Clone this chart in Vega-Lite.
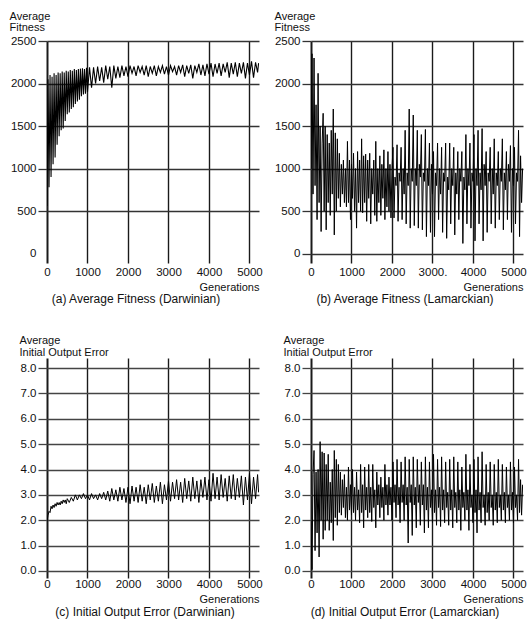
{
"$schema": "https://vega.github.io/schema/vega-lite/v6.json",
"background": "white",
"padding": {"left": 9, "top": 10, "right": 4, "bottom": 4},
"config": {
  "font": "Liberation Sans",
  "view": {"stroke": null},
  "axis": {"labelFont": "Liberation Sans", "labelFontSize": 11.5, "labelColor": "#111", "titleFont": "Liberation Sans", "titleFontSize": 11, "titleFontWeight": "normal", "titleColor": "#111", "domain": false, "labelFlush": false, "labelOverlap": false},
  "title": {"font": "Liberation Sans", "fontSize": 12, "fontWeight": "normal", "color": "#111"}
},
"datasets": {
"a": [
{"g":0,"v":560},{"g":25,"v":2050},{"g":50,"v":780},{"g":75,"v":2100},{"g":100,"v":900},{"g":125,"v":2080},{"g":150,"v":1050},{"g":175,"v":2120},{"g":200,"v":1130},{"g":225,"v":2100},{"g":250,"v":1280},{"g":275,"v":2130},{"g":300,"v":1380},{"g":325,"v":2120},{"g":350,"v":1450},{"g":375,"v":2140},{"g":400,"v":1470},{"g":425,"v":2130},{"g":450,"v":1560},{"g":475,"v":2150},{"g":500,"v":1640},{"g":525,"v":2140},{"g":550,"v":1660},{"g":575,"v":2160},{"g":600,"v":1700},{"g":625,"v":2150},{"g":650,"v":1720},{"g":675,"v":2170},{"g":700,"v":1760},{"g":725,"v":2160},{"g":750,"v":1790},{"g":775,"v":2170},{"g":800,"v":1810},{"g":825,"v":2175},{"g":850,"v":1850},{"g":875,"v":2180},{"g":900,"v":1870},{"g":925,"v":2170},{"g":950,"v":1880},{"g":975,"v":2185},{"g":1000,"v":1900},
{"g":1050,"v":2190},{"g":1100,"v":1950},{"g":1150,"v":2190},{"g":1200,"v":2000},{"g":1250,"v":2200},{"g":1300,"v":2030},{"g":1350,"v":2190},{"g":1400,"v":2010},{"g":1450,"v":2210},{"g":1500,"v":2050},{"g":1550,"v":2200},{"g":1600,"v":1950},{"g":1650,"v":2210},{"g":1700,"v":2060},{"g":1750,"v":2200},{"g":1800,"v":2070},{"g":1850,"v":2210},{"g":1900,"v":2090},{"g":1950,"v":2200},{"g":2000,"v":2080},{"g":2050,"v":2210},{"g":2100,"v":2120},{"g":2150,"v":2200},{"g":2200,"v":2090},{"g":2250,"v":2210},{"g":2300,"v":2130},{"g":2350,"v":2200},{"g":2400,"v":2100},{"g":2450,"v":2210},{"g":2500,"v":2080},{"g":2550,"v":2200},{"g":2600,"v":2120},{"g":2650,"v":2210},{"g":2700,"v":2090},{"g":2750,"v":2200},{"g":2800,"v":2130},{"g":2850,"v":2210},{"g":2900,"v":2110},{"g":2950,"v":2200},{"g":3000,"v":2100},{"g":3050,"v":2210},{"g":3100,"v":2140},{"g":3150,"v":2200},{"g":3200,"v":2100},{"g":3250,"v":2210},{"g":3300,"v":2130},{"g":3350,"v":2220},{"g":3400,"v":2080},{"g":3450,"v":2210},{"g":3500,"v":2120},{"g":3550,"v":2220},{"g":3600,"v":2060},{"g":3650,"v":2210},{"g":3700,"v":2130},{"g":3750,"v":2230},{"g":3800,"v":2100},{"g":3850,"v":2220},{"g":3900,"v":2090},{"g":3950,"v":2230},{"g":4000,"v":2110},{"g":4050,"v":2240},{"g":4100,"v":2080},{"g":4150,"v":2230},{"g":4200,"v":2120},{"g":4250,"v":2240},{"g":4300,"v":2090},{"g":4350,"v":2230},{"g":4400,"v":2130},{"g":4450,"v":2250},{"g":4500,"v":2070},{"g":4550,"v":2240},{"g":4600,"v":2110},{"g":4650,"v":2250},{"g":4700,"v":2080},{"g":4750,"v":2240},{"g":4800,"v":2120},{"g":4850,"v":2250},{"g":4900,"v":2060},{"g":4950,"v":2240},{"g":5000,"v":2100},{"g":5050,"v":2260},{"g":5100,"v":2070},{"g":5150,"v":2250},{"g":5200,"v":2130},{"g":5225,"v":2240}
],
"b": [
{"g":0,"v":1000},{"g":25,"v":2350},{"g":50,"v":700},{"g":75,"v":2300},{"g":100,"v":800},{"g":125,"v":1750},{"g":150,"v":400},{"g":175,"v":2120},{"g":200,"v":600},{"g":225,"v":1500},{"g":250,"v":260},{"g":275,"v":1300},{"g":300,"v":1650},{"g":325,"v":500},{"g":350,"v":1500},{"g":375,"v":280},{"g":400,"v":1400},{"g":425,"v":600},{"g":450,"v":1300},{"g":475,"v":450},{"g":500,"v":1450},{"g":525,"v":700},{"g":550,"v":1700},{"g":575,"v":220},{"g":600,"v":1420},{"g":625,"v":500},{"g":650,"v":1350},{"g":675,"v":650},{"g":700,"v":1180},{"g":725,"v":550},{"g":750,"v":1050},{"g":775,"v":700},{"g":800,"v":1100},{"g":825,"v":600},{"g":850,"v":1000},{"g":875,"v":550},{"g":900,"v":1320},{"g":925,"v":600},{"g":950,"v":1100},{"g":975,"v":400},{"g":1000,"v":1050},{"g":1025,"v":650},{"g":1050,"v":1180},{"g":1075,"v":500},{"g":1100,"v":1000},{"g":1125,"v":300},{"g":1150,"v":1200},{"g":1175,"v":600},{"g":1200,"v":1100},{"g":1225,"v":500},{"g":1250,"v":1350},{"g":1275,"v":480},{"g":1300,"v":1150},{"g":1325,"v":600},{"g":1350,"v":1170},{"g":1375,"v":380},{"g":1400,"v":1100},{"g":1425,"v":650},{"g":1450,"v":1180},{"g":1475,"v":350},{"g":1500,"v":1000},{"g":1525,"v":700},{"g":1550,"v":1100},{"g":1575,"v":450},{"g":1600,"v":1320},{"g":1625,"v":380},{"g":1650,"v":1000},{"g":1675,"v":600},{"g":1700,"v":1150},{"g":1725,"v":450},{"g":1750,"v":1050},{"g":1775,"v":650},{"g":1800,"v":1220},{"g":1825,"v":400},{"g":1850,"v":1000},{"g":1875,"v":550},{"g":1900,"v":1200},{"g":1925,"v":500},{"g":1950,"v":1050},{"g":1975,"v":420},
{"g":2000,"v":1000},{"g":2025,"v":1250},{"g":2050,"v":420},{"g":2075,"v":900},{"g":2100,"v":800},{"g":2125,"v":1280},{"g":2150,"v":380},{"g":2175,"v":950},{"g":2200,"v":850},{"g":2225,"v":1250},{"g":2250,"v":400},{"g":2275,"v":1000},{"g":2300,"v":700},{"g":2325,"v":1450},{"g":2350,"v":350},{"g":2375,"v":950},{"g":2400,"v":800},{"g":2425,"v":1700},{"g":2450,"v":300},{"g":2475,"v":1000},{"g":2500,"v":850},{"g":2525,"v":1630},{"g":2550,"v":330},{"g":2575,"v":1000},{"g":2600,"v":800},{"g":2625,"v":1450},{"g":2650,"v":300},{"g":2675,"v":1050},{"g":2700,"v":900},{"g":2725,"v":1400},{"g":2750,"v":280},{"g":2775,"v":950},{"g":2800,"v":850},{"g":2825,"v":1460},{"g":2850,"v":200},{"g":2875,"v":1000},{"g":2900,"v":800},{"g":2925,"v":1300},{"g":2950,"v":250},{"g":2975,"v":1050},
{"g":3000,"v":700},{"g":3025,"v":1200},{"g":3050,"v":200},{"g":3075,"v":950},{"g":3100,"v":800},{"g":3125,"v":1300},{"g":3150,"v":400},{"g":3175,"v":1000},{"g":3200,"v":700},{"g":3225,"v":1250},{"g":3250,"v":250},{"g":3275,"v":950},{"g":3300,"v":850},{"g":3325,"v":1300},{"g":3350,"v":180},{"g":3375,"v":900},{"g":3400,"v":750},{"g":3425,"v":1300},{"g":3450,"v":350},{"g":3475,"v":1000},{"g":3500,"v":800},{"g":3525,"v":1250},{"g":3550,"v":220},{"g":3575,"v":950},{"g":3600,"v":700},{"g":3625,"v":1200},{"g":3650,"v":400},{"g":3675,"v":1000},{"g":3700,"v":850},{"g":3725,"v":1200},{"g":3750,"v":120},{"g":3775,"v":900},{"g":3800,"v":750},{"g":3825,"v":1400},{"g":3850,"v":350},{"g":3875,"v":1000},{"g":3900,"v":800},{"g":3925,"v":1300},{"g":3950,"v":300},{"g":3975,"v":950},
{"g":4000,"v":850},{"g":4025,"v":1400},{"g":4050,"v":150},{"g":4075,"v":1000},{"g":4100,"v":800},{"g":4125,"v":1450},{"g":4150,"v":350},{"g":4175,"v":950},{"g":4200,"v":750},{"g":4225,"v":1470},{"g":4250,"v":150},{"g":4275,"v":1050},{"g":4300,"v":800},{"g":4325,"v":1200},{"g":4350,"v":250},{"g":4375,"v":950},{"g":4400,"v":850},{"g":4425,"v":1250},{"g":4450,"v":350},{"g":4475,"v":1000},{"g":4500,"v":700},{"g":4525,"v":1350},{"g":4550,"v":300},{"g":4575,"v":950},{"g":4600,"v":800},{"g":4625,"v":1200},{"g":4650,"v":400},{"g":4675,"v":1000},{"g":4700,"v":850},{"g":4725,"v":1350},{"g":4750,"v":280},{"g":4775,"v":950},{"g":4800,"v":750},{"g":4825,"v":1200},{"g":4850,"v":400},{"g":4875,"v":1050},{"g":4900,"v":850},{"g":4925,"v":1270},{"g":4950,"v":250},{"g":4975,"v":1000},
{"g":5000,"v":800},{"g":5025,"v":1250},{"g":5050,"v":350},{"g":5075,"v":950},{"g":5100,"v":850},{"g":5125,"v":1450},{"g":5150,"v":200},{"g":5175,"v":1150},{"g":5200,"v":600},{"g":5225,"v":1000}
],
"c": [
{"g":0,"v":1.95},{"g":25,"v":2.2},{"g":50,"v":2.35},{"g":75,"v":2.3},{"g":100,"v":2.55},{"g":125,"v":2.45},{"g":150,"v":2.6},{"g":175,"v":2.5},{"g":200,"v":2.65},{"g":225,"v":2.55},{"g":250,"v":2.7},{"g":275,"v":2.6},{"g":300,"v":2.7},{"g":325,"v":2.6},{"g":350,"v":2.75},{"g":375,"v":2.65},{"g":400,"v":2.8},{"g":425,"v":2.7},{"g":450,"v":2.8},{"g":475,"v":2.65},{"g":500,"v":2.85},
{"g":550,"v":2.7},{"g":600,"v":2.9},{"g":650,"v":2.75},{"g":700,"v":3.0},{"g":750,"v":2.8},{"g":800,"v":3.0},{"g":850,"v":2.85},{"g":900,"v":3.05},{"g":950,"v":2.85},{"g":1000,"v":3.0},{"g":1050,"v":2.8},{"g":1100,"v":3.05},{"g":1150,"v":2.85},{"g":1200,"v":3.0},{"g":1250,"v":2.8},{"g":1300,"v":3.05},{"g":1350,"v":2.85},{"g":1400,"v":3.1},{"g":1450,"v":2.8},{"g":1500,"v":3.15},{"g":1550,"v":2.75},{"g":1600,"v":3.25},{"g":1650,"v":2.8},{"g":1700,"v":3.2},{"g":1750,"v":2.75},{"g":1800,"v":3.3},{"g":1850,"v":2.8},{"g":1900,"v":3.25},{"g":1950,"v":2.7},{"g":2000,"v":3.3},{"g":2050,"v":2.65},{"g":2100,"v":3.35},{"g":2150,"v":2.75},{"g":2200,"v":3.3},{"g":2250,"v":2.7},{"g":2300,"v":3.4},{"g":2350,"v":2.75},{"g":2400,"v":3.3},{"g":2450,"v":2.65},{"g":2500,"v":3.4},{"g":2550,"v":2.8},{"g":2600,"v":3.45},{"g":2650,"v":2.7},{"g":2700,"v":3.35},{"g":2750,"v":2.75},{"g":2800,"v":3.5},{"g":2850,"v":2.65},{"g":2900,"v":3.4},{"g":2950,"v":2.8},{"g":3000,"v":3.55},{"g":3050,"v":2.75},{"g":3100,"v":3.5},{"g":3150,"v":2.85},{"g":3200,"v":3.6},{"g":3250,"v":2.8},{"g":3300,"v":3.5},{"g":3350,"v":2.7},{"g":3400,"v":3.65},{"g":3450,"v":2.85},{"g":3500,"v":3.55},{"g":3550,"v":2.75},{"g":3600,"v":3.7},{"g":3650,"v":2.85},{"g":3700,"v":3.55},{"g":3750,"v":2.7},{"g":3800,"v":3.6},{"g":3850,"v":2.9},{"g":3900,"v":3.7},{"g":3950,"v":2.8},{"g":4000,"v":3.6},{"g":4050,"v":2.75},{"g":4100,"v":3.85},{"g":4150,"v":2.85},{"g":4200,"v":3.7},{"g":4250,"v":2.8},{"g":4300,"v":3.8},{"g":4350,"v":2.9},{"g":4400,"v":3.65},{"g":4450,"v":2.75},{"g":4500,"v":3.75},{"g":4550,"v":2.85},{"g":4600,"v":3.8},{"g":4650,"v":2.8},{"g":4700,"v":3.65},{"g":4750,"v":2.9},{"g":4800,"v":3.75},{"g":4850,"v":2.6},{"g":4900,"v":3.7},{"g":4950,"v":2.8},{"g":5000,"v":3.85},{"g":5050,"v":2.65},{"g":5100,"v":3.7},{"g":5150,"v":2.85},{"g":5200,"v":3.8},{"g":5225,"v":3.1}
],
"d": [
{"g":0,"v":2.0},{"g":25,"v":0.05},{"g":50,"v":3.8},{"g":75,"v":4.75},{"g":100,"v":0.8},{"g":125,"v":3.9},{"g":150,"v":1.5},{"g":175,"v":4.0},{"g":200,"v":0.55},{"g":225,"v":5.1},{"g":250,"v":2.0},{"g":275,"v":4.7},{"g":300,"v":1.25},{"g":325,"v":4.65},{"g":350,"v":1.6},{"g":375,"v":4.2},{"g":400,"v":2.0},{"g":425,"v":4.6},{"g":450,"v":1.6},{"g":475,"v":3.5},{"g":500,"v":1.9},{"g":525,"v":4.0},{"g":550,"v":1.2},{"g":575,"v":4.75},{"g":600,"v":2.1},{"g":625,"v":4.4},{"g":650,"v":1.8},{"g":675,"v":4.2},{"g":700,"v":2.3},{"g":725,"v":3.9},{"g":750,"v":2.2},{"g":775,"v":3.6},{"g":800,"v":2.5},{"g":825,"v":3.8},{"g":850,"v":2.1},{"g":875,"v":3.3},{"g":900,"v":2.0},{"g":925,"v":4.1},{"g":950,"v":2.4},{"g":975,"v":3.4},
{"g":1000,"v":2.2},{"g":1025,"v":4.0},{"g":1050,"v":2.3},{"g":1075,"v":3.3},{"g":1100,"v":2.0},{"g":1125,"v":3.9},{"g":1150,"v":2.4},{"g":1175,"v":3.2},{"g":1200,"v":1.9},{"g":1225,"v":4.2},{"g":1250,"v":2.3},{"g":1275,"v":3.4},{"g":1300,"v":1.7},{"g":1325,"v":4.1},{"g":1350,"v":2.4},{"g":1375,"v":3.3},{"g":1400,"v":2.1},{"g":1425,"v":4.2},{"g":1450,"v":2.3},{"g":1475,"v":3.3},{"g":1500,"v":1.95},{"g":1525,"v":4.2},{"g":1550,"v":2.5},{"g":1575,"v":3.2},{"g":1600,"v":1.7},{"g":1625,"v":3.9},{"g":1650,"v":2.6},{"g":1675,"v":3.4},{"g":1700,"v":2.1},{"g":1725,"v":3.7},{"g":1750,"v":2.5},{"g":1775,"v":3.3},{"g":1800,"v":2.0},{"g":1825,"v":4.2},{"g":1850,"v":2.6},{"g":1875,"v":3.4},{"g":1900,"v":2.2},{"g":1925,"v":3.7},{"g":1950,"v":2.6},{"g":1975,"v":3.3},
{"g":2000,"v":2.0},{"g":2025,"v":4.3},{"g":2050,"v":2.7},{"g":2075,"v":3.4},{"g":2100,"v":2.1},{"g":2125,"v":4.4},{"g":2150,"v":2.6},{"g":2175,"v":3.3},{"g":2200,"v":1.9},{"g":2225,"v":4.3},{"g":2250,"v":2.7},{"g":2275,"v":3.4},{"g":2300,"v":2.0},{"g":2325,"v":4.5},{"g":2350,"v":2.6},{"g":2375,"v":3.3},{"g":2400,"v":1.1},{"g":2425,"v":4.4},{"g":2450,"v":2.7},{"g":2475,"v":3.4},{"g":2500,"v":1.4},{"g":2525,"v":4.5},{"g":2550,"v":2.6},{"g":2575,"v":3.3},{"g":2600,"v":1.7},{"g":2625,"v":4.4},{"g":2650,"v":2.7},{"g":2675,"v":3.4},{"g":2700,"v":1.8},{"g":2725,"v":4.3},{"g":2750,"v":2.6},{"g":2775,"v":3.4},{"g":2800,"v":1.5},{"g":2825,"v":4.5},{"g":2850,"v":2.4},{"g":2875,"v":3.3},{"g":2900,"v":1.7},{"g":2925,"v":4.3},{"g":2950,"v":2.5},{"g":2975,"v":3.2},
{"g":3000,"v":1.9},{"g":3025,"v":4.6},{"g":3050,"v":2.3},{"g":3075,"v":3.2},{"g":3100,"v":1.8},{"g":3125,"v":4.4},{"g":3150,"v":2.5},{"g":3175,"v":3.3},{"g":3200,"v":1.75},{"g":3225,"v":4.5},{"g":3250,"v":2.4},{"g":3275,"v":3.2},{"g":3300,"v":1.9},{"g":3325,"v":4.3},{"g":3350,"v":2.5},{"g":3375,"v":3.1},{"g":3400,"v":1.8},{"g":3425,"v":4.4},{"g":3450,"v":2.4},{"g":3475,"v":3.2},{"g":3500,"v":1.7},{"g":3525,"v":4.5},{"g":3550,"v":2.5},{"g":3575,"v":3.1},{"g":3600,"v":1.9},{"g":3625,"v":4.3},{"g":3650,"v":2.4},{"g":3675,"v":3.2},{"g":3700,"v":1.6},{"g":3725,"v":4.1},{"g":3750,"v":2.5},{"g":3775,"v":3.1},{"g":3800,"v":2.0},{"g":3825,"v":4.6},{"g":3850,"v":2.4},{"g":3875,"v":3.2},{"g":3900,"v":1.6},{"g":3925,"v":4.2},{"g":3950,"v":2.5},{"g":3975,"v":3.0},
{"g":4000,"v":1.9},{"g":4025,"v":4.4},{"g":4050,"v":2.3},{"g":4075,"v":3.2},{"g":4100,"v":1.5},{"g":4125,"v":4.5},{"g":4150,"v":2.4},{"g":4175,"v":3.1},{"g":4200,"v":1.9},{"g":4225,"v":4.7},{"g":4250,"v":2.5},{"g":4275,"v":3.0},{"g":4300,"v":1.8},{"g":4325,"v":4.2},{"g":4350,"v":2.3},{"g":4375,"v":3.1},{"g":4400,"v":2.0},{"g":4425,"v":4.3},{"g":4450,"v":2.5},{"g":4475,"v":3.0},{"g":4500,"v":1.8},{"g":4525,"v":4.2},{"g":4550,"v":2.4},{"g":4575,"v":3.1},{"g":4600,"v":1.9},{"g":4625,"v":4.4},{"g":4650,"v":2.5},{"g":4675,"v":3.0},{"g":4700,"v":2.0},{"g":4725,"v":4.2},{"g":4750,"v":2.4},{"g":4775,"v":3.1},{"g":4800,"v":1.9},{"g":4825,"v":4.1},{"g":4850,"v":2.5},{"g":4875,"v":3.0},{"g":4900,"v":2.0},{"g":4925,"v":4.3},{"g":4950,"v":2.4},{"g":4975,"v":3.1},
{"g":5000,"v":1.9},{"g":5025,"v":4.1},{"g":5050,"v":2.5},{"g":5075,"v":3.0},{"g":5100,"v":2.0},{"g":5125,"v":4.4},{"g":5150,"v":2.3},{"g":5175,"v":3.6},{"g":5200,"v":2.2},{"g":5225,"v":3.4}
]
},
"columns": 2,
"spacing": {"row": 95, "column": 52},
"bounds": "flush",
"concat": [
{
 "width": 212, "height": 222,
 "data": {"name": "a"},
 "title": {"text": "(a) Average Fitness (Darwinian)", "orient": "bottom", "frame": "group", "anchor": "middle", "dx": -17, "offset": 2},
 "mark": {"type": "line", "color": "black", "strokeWidth": 1.1, "clip": true},
 "encoding": {
  "x": {"field": "g", "type": "quantitative", "scale": {"domain": [0, 5235], "nice": false, "zero": false},
   "axis": {"values": [0,1000,2000,3000,4000,5000], "format": "d", "grid": true, "gridColor": "#1a1a1a", "gridWidth": {"condition": {"test": "datum.value == 0", "value": 2}, "value": 1.4}, "ticks": false, "tickSize": 0, "labelPadding": 3, "title": "Generations", "titleAlign": "right", "titleAnchor": "end", "titleX": 212, "titleY": 18, "titleBaseline": "top"}},
  "y": {"field": "v", "type": "quantitative", "scale": {"domain": [-110, 2500], "nice": false, "zero": false},
   "axis": {"values": [0,500,1000,1500,2000,2500], "format": "d", "grid": true, "gridColor": "#333", "gridWidth": 1.3, "gridOpacity": {"condition": {"test": "datum.value == 0", "value": 0}, "value": 1}, "ticks": true, "tickSize": 9, "tickColor": "#333", "tickWidth": 1.3, "tickOpacity": {"condition": {"test": "datum.value == 0", "value": 0}, "value": 1}, "labelPadding": 2, "title": ["Average", "Fitness"], "titleAngle": 0, "titleAlign": "left", "titleBaseline": "top", "titleX": -38, "titleY": -31, "titleLineHeight": 11}}
 }
},
{
 "width": 212, "height": 222,
 "data": {"name": "b"},
 "title": {"text": "(b) Average Fitness (Lamarckian)", "orient": "bottom", "frame": "group", "anchor": "middle", "dx": -12, "offset": 2},
 "mark": {"type": "line", "color": "black", "strokeWidth": 1, "clip": true},
 "encoding": {
  "x": {"field": "g", "type": "quantitative", "scale": {"domain": [0, 5235], "nice": false, "zero": false},
   "axis": {"values": [0,1000,2000,3000,4000,5000], "format": "d", "labelExpr": "datum.value == 3000 ? '3000.' : datum.label", "grid": true, "gridColor": "#1a1a1a", "gridWidth": {"condition": {"test": "datum.value == 0", "value": 2}, "value": 1.4}, "ticks": false, "tickSize": 0, "labelPadding": 3, "title": "Generations", "titleAlign": "right", "titleAnchor": "end", "titleX": 212, "titleY": 18, "titleBaseline": "top"}},
  "y": {"field": "v", "type": "quantitative", "scale": {"domain": [-110, 2500], "nice": false, "zero": false},
   "axis": {"values": [0,500,1000,1500,2000,2500], "format": "d", "grid": true, "gridColor": "#333", "gridWidth": 1.3, "ticks": true, "tickSize": 9, "tickColor": "#333", "tickWidth": 1.3, "labelPadding": 2, "title": ["Average", "Fitness"], "titleAngle": 0, "titleAlign": "left", "titleBaseline": "top", "titleX": -37, "titleY": -31, "titleLineHeight": 11}}
 }
},
{
 "width": 212, "height": 220,
 "data": {"name": "c"},
 "title": {"text": "(c) Initial Output Error (Darwinian)", "orient": "bottom", "frame": "group", "anchor": "middle", "dx": -8, "offset": 3},
 "mark": {"type": "line", "color": "black", "strokeWidth": 1, "clip": true},
 "encoding": {
  "x": {"field": "g", "type": "quantitative", "scale": {"domain": [0, 5235], "nice": false, "zero": false},
   "axis": {"values": [0,1000,2000,3000,4000,5000], "format": "d", "grid": true, "gridColor": "#1a1a1a", "gridWidth": {"condition": {"test": "datum.value == 0", "value": 2}, "value": 1.4}, "ticks": false, "tickSize": 0, "labelPadding": 0, "title": "Generations", "titleAlign": "right", "titleAnchor": "end", "titleX": 212, "titleY": 15, "titleBaseline": "top"}},
  "y": {"field": "v", "type": "quantitative", "scale": {"domain": [-0.28, 8.4], "nice": false, "zero": false},
   "axis": {"values": [0,1,2,3,4,5,6,7,8], "format": ".1f", "grid": true, "gridColor": "#444", "gridWidth": 1.3, "ticks": true, "tickSize": 9, "tickColor": "#444", "tickWidth": 1.3, "labelPadding": 2, "title": ["Average", "Initial Output Error"], "titleAngle": 0, "titleAlign": "left", "titleBaseline": "top", "titleX": -28, "titleY": -24, "titleLineHeight": 12}}
 }
},
{
 "width": 212, "height": 220,
 "data": {"name": "d"},
 "title": {"text": "(d) Initial Output Error (Lamarckian)", "orient": "bottom", "frame": "group", "anchor": "middle", "dx": -12, "offset": 3},
 "mark": {"type": "line", "color": "black", "strokeWidth": 1, "clip": true},
 "encoding": {
  "x": {"field": "g", "type": "quantitative", "scale": {"domain": [0, 5235], "nice": false, "zero": false},
   "axis": {"values": [0,1000,2000,3000,4000,5000], "format": "d", "grid": true, "gridColor": "#1a1a1a", "gridWidth": {"condition": {"test": "datum.value == 0", "value": 2}, "value": 1.4}, "ticks": false, "tickSize": 0, "labelPadding": 0, "title": "Generations", "titleAlign": "right", "titleAnchor": "end", "titleX": 212, "titleY": 15, "titleBaseline": "top"}},
  "y": {"field": "v", "type": "quantitative", "scale": {"domain": [-0.28, 8.4], "nice": false, "zero": false},
   "axis": {"values": [0,1,2,3,4,5,6,7,8], "format": ".1f", "grid": true, "gridColor": "#444", "gridWidth": 1.3, "ticks": true, "tickSize": 9, "tickColor": "#444", "tickWidth": 1.3, "labelPadding": 2, "title": ["Average", "Initial Output Error"], "titleAngle": 0, "titleAlign": "left", "titleBaseline": "top", "titleX": -28, "titleY": -24, "titleLineHeight": 12}}
 }
}
]
}
